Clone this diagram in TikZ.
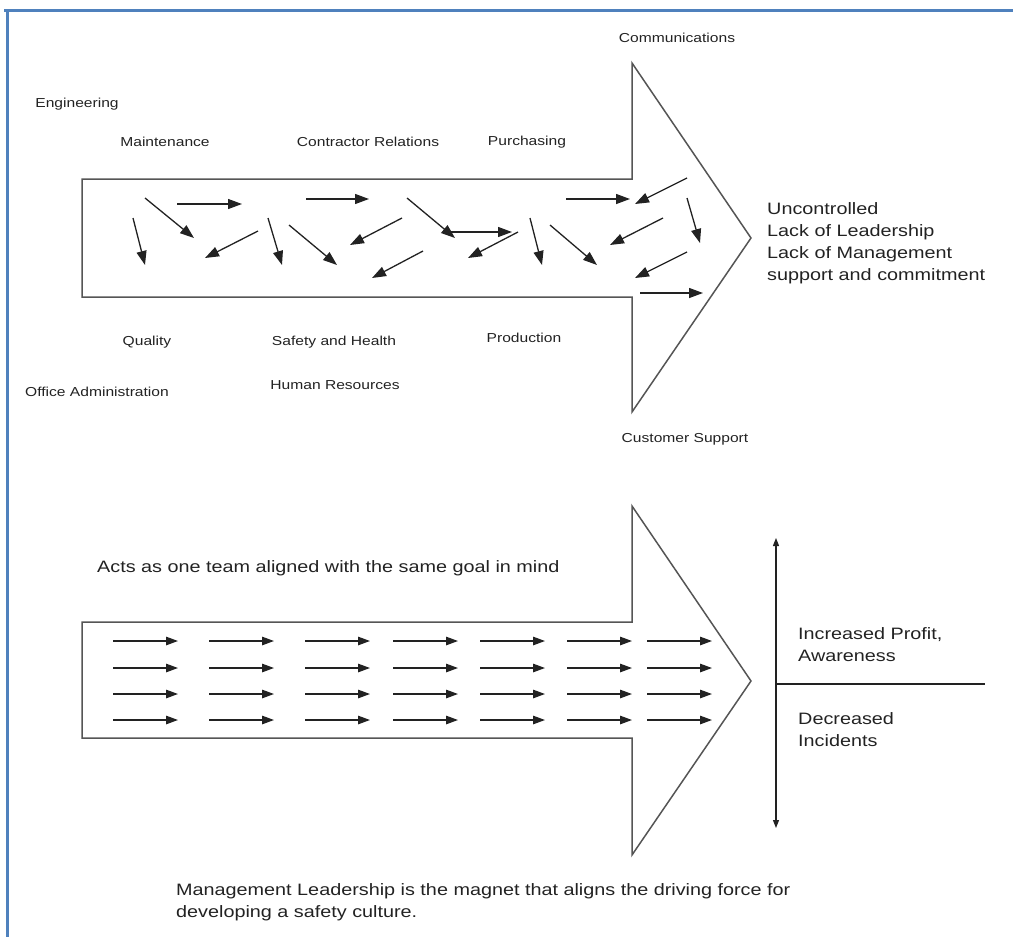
\documentclass[tikz,border=0pt]{standalone}
\usepackage{fontspec}
\setmainfont{Liberation Sans}[FakeStretch=1.2]
\usetikzlibrary{arrows.meta}
\definecolor{frameblue}{HTML}{4F81BD}
\definecolor{ink}{HTML}{222222}
\definecolor{outline}{HTML}{555555}
\begin{document}
\begin{tikzpicture}[x=1pt,y=-1pt,
 fr/.style={draw=frameblue,line width=2.5pt},
 shaft/.style={draw=outline,line width=1.5pt,line join=miter},
 darr/.style={draw=ink,line width=1.3pt,-{Triangle[length=14pt,width=10pt]}},
 aarr/.style={draw=ink,line width=1.3pt,-{Triangle[length=12pt,width=8.5pt]}},
 lbl/.style={text=ink,font=\fontsize{13}{15}\selectfont,inner sep=0pt},
 big/.style={text=ink,font=\fontsize{16.5}{22}\selectfont,inner sep=0pt,align=left,anchor=west},
 ]
\useasboundingbox (0,0) rectangle (1013,937);
% frame
\draw[fr] (4,10.5) -- (1013,10.5);
\draw[fr] (7.5,10) -- (7.5,937);

% top big arrow
\draw[shaft] (82,179) -- (632,179) -- (632,63) -- (751,238) -- (632,412) -- (632,297) -- (82,297) -- cycle;
% bottom big arrow
\draw[shaft] (82,622) -- (632,622) -- (632,506) -- (751,681) -- (632,855) -- (632,738) -- (82,738) -- cycle;

% chaotic arrows
\draw[darr] (145,198) -- (194,238);
\draw[darr] (177,204) -- (242,204);
\draw[darr] (133,218) -- (145,265);
\draw[darr] (258,231) -- (205,258);
\draw[darr] (306,199) -- (369,199);
\draw[darr] (268,218) -- (282,265);
\draw[darr] (289,225) -- (337,265);
\draw[darr] (402,218) -- (350,245);
\draw[darr] (423,251) -- (372,278);
\draw[darr] (407,198) -- (455,238);
\draw[darr] (448,232) -- (512,232);
\draw[darr] (518,232) -- (468,258);
\draw[darr] (530,218) -- (542,265);
\draw[darr] (550,225) -- (597,265);
\draw[darr] (566,199) -- (630,199);
\draw[darr] (687,178) -- (635,204);
\draw[darr] (663,218) -- (610,245);
\draw[darr] (687,198) -- (700,243);
\draw[darr] (687,252) -- (635,278);
\draw[darr] (640,293) -- (703,293);

% aligned arrows
\foreach \xa/\xb in {113/178,209/274,305/370,393/458,480/545,567/632,647/712}{
  \foreach \yy in {641,668,694,720}{
    \draw[aarr] (\xa,\yy) -- (\xb,\yy);
  }
}

% labels top
\node[lbl] (comm) at (677,38) {Communications};
\node[lbl] (eng) at (77,104) {Engineering};
\node[lbl] (maint) at (165,142) {Maintenance};
\node[lbl] (contr) at (368,142) {Contractor Relations};
\node[lbl] (purch) at (527,142) {Purchasing};
\node[lbl] (qual) at (147,342) {Quality};
\node[lbl] (safe) at (334,342) {Safety and Health};
\node[lbl] (prod) at (524,338) {Production};
\node[lbl] (office) at (97,392) {Office Administration};
\node[lbl] (hr) at (335,385) {Human Resources};
\node[lbl] (cust) at (685,439) {Customer Support};

\node[big] (unc) at (767,243) {Uncontrolled\\Lack of Leadership\\Lack of Management\\support and commitment};

% bottom
\node[big] (acts) at (97,568) {Acts as one team aligned with the same goal in mind};
\draw[ink,line width=1.2pt,{Triangle[length=8pt,width=6pt]}-{Triangle[length=8pt,width=6pt]}] (776,538) -- (776,828);
\draw[ink,line width=1.2pt] (776,684) -- (985,684);
\node[big] (inc) at (798,645) {Increased Profit,\\Awareness};
\node[big] (dec) at (798,730) {Decreased\\Incidents};
\node[big] (mgmt) at (176,902) {Management Leadership is the magnet that aligns the driving force for\\developing a safety culture.};
\end{tikzpicture}
\end{document}
